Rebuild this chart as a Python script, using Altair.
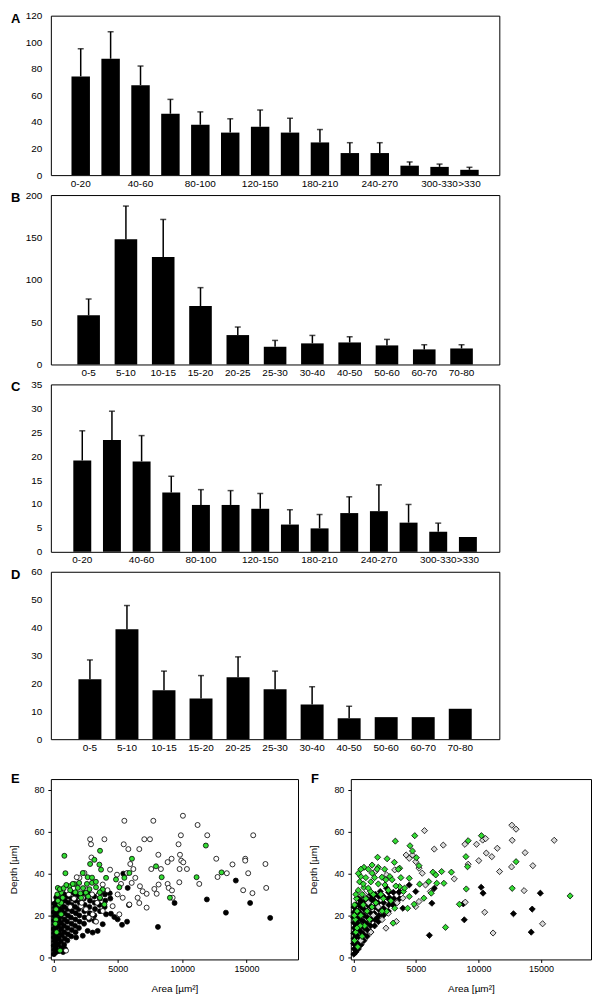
import altair as alt
import pandas as pd

FONT = "Liberation Sans, Arial"

# ---------------- bar panels data ----------------
A_cats = ["0-20", "20-40", "40-60", "60-80", "80-100", "100-120", "120-150", "150-180",
          "180-210", "210-240", "240-270", "270-300", "300-330", ">330"]
A_vals = [74.3, 87.6, 67.7, 46.2, 37.9, 32.0, 36.4, 32.0, 24.6, 16.6, 16.6, 7.1, 6.2, 4.0]
A_up = [95.1, 107.9, 82.1, 57.0, 47.6, 42.4, 49.0, 42.8, 34.3, 24.4, 24.4, 9.9, 8.3, 5.9]
A_labels = ["0-20", "40-60", "80-100", "120-150", "180-210", "240-270", "300-330", ">330"]
A_ticks = [0, 20, 40, 60, 80, 100, 120]

B_cats = ["0-5", "5-10", "10-15", "15-20", "20-25", "25-30", "30-40", "40-50", "50-60", "60-70", "70-80"]
B_vals = [58.0, 147.9, 127.0, 69.0, 34.7, 20.9, 24.9, 26.0, 22.5, 17.8, 18.9]
B_up = [77.3, 187.0, 171.2, 90.7, 44.2, 28.4, 34.3, 32.7, 29.6, 23.3, 23.3]
B_ticks = [0, 50, 100, 150, 200]

C_cats = A_cats
C_vals = [19.1, 23.4, 18.9, 12.4, 9.8, 9.8, 9.0, 5.7, 4.9, 8.1, 8.5, 6.1, 4.2, 3.1]
C_up = [25.3, 29.4, 24.3, 15.8, 13.0, 12.8, 12.2, 8.8, 7.8, 11.5, 14.0, 9.9, 6.0, None]
C_ticks = [0, 5, 10, 15, 20, 25, 30, 35]

D_cats = B_cats
D_vals = [21.5, 39.4, 17.5, 14.6, 22.2, 17.9, 12.4, 7.5, 7.9, 7.9, 10.9]
D_up = [28.4, 47.9, 24.4, 22.8, 29.5, 24.4, 18.8, 11.8, None, None, None]
D_ticks = [0, 10, 20, 30, 40, 50, 60]

# ---------------- scatter data (area um^2, depth um) ----------------
E_black = [
    (5430, 39.9), (5870, 24.9), (5720, 17.0), (5330, 15.5), (8120, 14.5), (9410, 25.9),
    (11920, 27.6), (13400, 21.3), (14170, 36.6), (15280, 25.9), (16840, 18.8),
    (4470, 20.8), (4730, 19.2), (4990, 18.1), (3830, 15.8), (3440, 12.6), (3050, 11.8),
    (3180, 17.4), (2660, 12.6), (2280, 10.3), (1760, 9.5), (5770, 33.1), (4090, 20.5),
    (40, 1.5), (60, 3.5), (30, 5.5), (70, 7.5), (40, 9.5), (60, 11.5), (30, 13.5), (80, 15.5),
    (50, 17.5), (70, 19.5), (40, 21.5), (90, 23.5), (60, 25.5),
    (210, 2.5), (180, 4.5), (230, 6.5), (190, 8.5), (220, 10.5), (170, 12.5), (240, 14.5),
    (200, 16.5), (180, 18.5), (230, 20.5), (210, 22.5), (190, 24.5), (250, 26.5), (220, 28.5),
    (420, 3), (380, 6), (410, 9), (430, 12), (390, 15), (420, 18), (370, 21), (440, 24),
    (400, 27), (420, 30),
    (620, 4.5), (580, 7.5), (640, 10.5), (600, 13.5), (610, 16.5), (570, 19.5), (630, 22.5),
    (590, 25.5), (650, 28.5), (750, 2.5), (900, 4),
    (830, 6), (880, 9), (850, 12), (820, 15), (870, 18), (860, 21), (840, 24), (890, 27), (850, 30),
    (1080, 8), (1130, 11), (1100, 14), (1070, 17), (1120, 20), (1090, 23), (1150, 26), (1110, 29),
    (1380, 10), (1420, 13), (1400, 16), (1360, 19), (1440, 22), (1410, 25), (1390, 28), (1430, 31),
    (1720, 12), (1680, 15), (1700, 18), (1740, 21), (1690, 24), (1710, 27), (1670, 30),
    (1980, 14), (2030, 17), (2010, 20), (1970, 23), (2040, 26), (2000, 29),
    (2380, 16), (2420, 19), (2400, 22), (2430, 25), (2370, 28), (2410, 30.5),
    (2780, 18), (2820, 21), (2800, 24), (2840, 27), (2790, 30),
    (3180, 20), (3230, 23), (3200, 26), (3170, 29),
    (3620, 22), (3580, 25), (3610, 28), (3590, 30.5),
    (3980, 24), (4030, 27), (4000, 30), (4420, 28), (4380, 30.5),
]
E_grey = [
    (5510, 65.1), (7760, 65.1), (10060, 67.5), (11200, 63.1), (9900, 58.2), (11950, 58.2),
    (15520, 58.2), (2850, 56.3), (2920, 53.9), (3960, 56.3), (7060, 56.3), (7500, 56.3),
    (5460, 53.9), (5820, 51.6), (6670, 51.6), (9720, 53.9), (9830, 48.9), (9930, 46.1),
    (8150, 48.9), (9180, 47.0), (8870, 45.4), (12650, 47.0), (13910, 44.3), (14900, 47.0),
    (14900, 46.1), (16470, 44.5), (2950, 47.6), (5970, 44.5), (6210, 42.1), (7600, 42.1),
    (8350, 42.1), (9800, 42.1), (10370, 42.1), (10090, 45.3), (13470, 40.1), (15130, 40.1),
    (12750, 38.3), (11330, 35.0), (9780, 35.8), (8870, 35.0), (8170, 34.7), (7840, 32.6),
    (8020, 30.3), (7240, 30.3), (7240, 23.7), (8950, 33.1), (9210, 31.9), (9260, 28.4),
    (14740, 32.0), (15460, 30.6), (16530, 33.1), (4400, 41.8), (4940, 39.4), (5250, 35.0),
    (5720, 40.2), (6080, 35.5), (6360, 37.9), (6720, 33.9), (6540, 28.4), (6930, 31.5),
    (6670, 25.9), (3830, 34.7), (3520, 30.0), (4990, 30.0), (5380, 28.4), (5900, 25.2),
    (4600, 24.4), (5120, 20.5), (3830, 22.1), (3050, 20.5), (2740, 18.9), (3310, 17.0),
    (2280, 28.4), (2150, 24.4), (2530, 22.9), (980, 3.2), (2020, 37.9), (2410, 40.2),
    (1810, 38.2), (1300, 24), (1600, 28), (2200, 26), (2600, 32),
    (3000, 30), (1200, 30), (700, 32), (400, 30), (3400, 26), (3800, 32), (4200, 32),
]
E_green = [
    (850, 48.4), (930, 40.1), (3620, 50.8), (6100, 47.0), (11840, 53.3), (7970, 43.4),
    (8410, 38.2), (11120, 38.2), (13060, 40.5), (9050, 28.4), (2850, 44.5), (3180, 46.5),
    (3570, 44.2), (3700, 41.8), (2280, 40.2), (2660, 38.2), (3000, 35.5), (1630, 35.0),
    (1240, 33.9), (340, 33.1), (600, 30.8), (720, 28.4), (470, 25.2), (210, 22.9), (600, 20.5),
    (1890, 33.1), (2150, 28.4), (2530, 30.8), (3310, 33.4), (3830, 32.3), (4090, 37.9),
    (4860, 37.1), (5120, 33.4), (5510, 37.9), (5900, 40.2), (3620, 28.4), (3960, 25.2),
    (520, 3.2), (300, 30), (500, 32.5), (800, 33), (1000, 34.5), (1300, 32), (1500, 35),
    (2000, 35.5), (2300, 33), (2600, 35), (2800, 32.5), (3000, 38), (3300, 36), (3600, 31),
    (200, 18), (250, 12), (600, 26), (1700, 31), (2100, 30.5), (2700, 29), (150, 16), (350, 27),
]

F_black = [
    (6080, 10.5), (6280, 25.8), (8790, 25.5), (8870, 17.9), (10220, 33.4), (10370, 30.6),
    (12800, 20.8), (14300, 23.0), (14950, 30.6), (14220, 12.0), (6470, 32.9),
    (2920, 28.2), (3700, 31.4), (4470, 34.5), (2410, 23.4), (3180, 25.0), (3960, 23.4),
    (1890, 18.7), (4990, 31.4), (2150, 31.4), (2660, 33.0), (1500, 28.2),
    (40, 1.5), (70, 4), (30, 6.5), (60, 9), (40, 11.5), (80, 14), (50, 16.5), (30, 19),
    (70, 21.5), (50, 24),
    (200, 2.5), (230, 5), (180, 7.5), (220, 10), (190, 12.5), (240, 15), (210, 17.5), (180, 20),
    (230, 22.5), (200, 25),
    (400, 4), (430, 7), (380, 10), (420, 13), (400, 16), (440, 19), (390, 22), (420, 25), (400, 28),
    (620, 6), (580, 9), (640, 12), (600, 15), (610, 18), (570, 21), (630, 24), (600, 27),
    (850, 8), (820, 11), (880, 14), (840, 17), (860, 20), (830, 23), (870, 26), (850, 29),
    (1100, 10), (1130, 13), (1080, 16), (1120, 19), (1090, 22), (1140, 25), (1100, 28),
    (1400, 12), (1380, 15), (1420, 18), (1400, 21), (1370, 24), (1430, 27), (1400, 30),
    (1700, 15), (1730, 18), (1680, 21), (1720, 24), (1700, 27), (1750, 30),
    (2000, 17), (2050, 20), (2010, 23), (1980, 26), (2040, 29),
    (2400, 20), (2380, 23), (2420, 26), (2400, 29),
    (2800, 22), (2830, 25), (2790, 28), (2820, 31),
    (3200, 25), (3250, 28), (3200, 31), (3700, 28), (3650, 31),
]
F_grey = [
    (5690, 60.4), (7190, 53.5), (6470, 51.6), (8920, 53.9), (9850, 53.9), (10340, 55.9),
    (10580, 56.6), (10630, 49.7), (11070, 48.0), (11510, 52.0), (12670, 63.0), (13010, 61.1),
    (12700, 55.8), (16060, 55.8), (10030, 46.1), (9180, 44.4), (11690, 40.9), (8070, 37.4),
    (12650, 43.1), (14350, 43.7), (13730, 49.9), (13650, 31.8), (8950, 26.3), (10500, 21.5),
    (11170, 11.6), (15130, 16.0), (4470, 47.2), (4730, 48.8), (4990, 45.6), (5250, 42.5),
    (5510, 40.1), (5770, 34.5), (4990, 24.2), (5250, 26.6), (3310, 41.7), (2610, 13.9),
    (3440, 17.1), (3960, 28.2), (1760, 40.9), (6160, 31.4), (4220, 48.8), (2660, 39.3),
    (1200, 26), (1600, 20), (2000, 24), (900, 30), (2300, 18), (2800, 21), (1400, 12),
    (3500, 26), (600, 8),
]
F_green = [
    (3360, 55.4), (4910, 58.0), (1940, 47.7), (850, 42.9), (1990, 42.9), (3280, 45.3),
    (4530, 53.2), (4730, 50.7), (5040, 47.5), (5250, 43.7), (3700, 42.5), (2920, 38.5),
    (2280, 38.2), (1500, 40.1), (600, 38.5), (850, 33.3), (1370, 31.4), (2530, 34.5),
    (3700, 33.7), (4470, 37.7), (5300, 34.9), (5640, 28.2), (6030, 36.1), (6360, 40.6),
    (6590, 39.3), (6670, 35.3), (7060, 40.9), (7240, 35.3), (6230, 30.6), (4010, 31.4),
    (4470, 29.0), (4860, 25.3), (4340, 23.4), (3310, 23.4), (3180, 16.3), (2660, 21.9),
    (7840, 40.6), (8480, 25.3), (7370, 14.3), (9030, 32.6), (9130, 43.2), (9000, 48.0),
    (9180, 55.6), (10240, 58.0), (13010, 45.6), (12700, 32.9), (17330, 29.3),
    (100, 8), (200, 12), (150, 18), (300, 22), (250, 28), (400, 32), (500, 36), (700, 30),
    (800, 25), (600, 20), (1000, 28), (1200, 33), (1400, 36), (1600, 30), (1800, 26),
    (2000, 35), (2200, 30), (900, 15), (700, 10), (1100, 22), (1300, 18), (1500, 24),
    (1700, 38), (1900, 42), (400, 40), (200, 30), (100, 25), (2400, 28), (2600, 37),
    (2800, 32), (3000, 27), (350, 5), (550, 15), (1000, 38), (1200, 42), (2500, 42),
    (3100, 37), (80, 20), (300, 14), (2300, 22), (3400, 34), (3800, 38), (4100, 33),
    (3600, 42), (2700, 47), (1500, 44), (800, 35), (600, 42),
]

GREEN = "#33dd33"


def letter_layer(letter, dy):
    return alt.Chart(pd.DataFrame({"t": [letter]})).mark_text(
        align="left", baseline="top", fontSize=13, fontWeight="bold",
        font=FONT, color="black"
    ).encode(x=alt.value(-40), y=alt.value(dy), text="t:N")


def bar_panel(letter, cats, vals, ups, yticks, ymax, label_values, pin, pout, h):
    df = pd.DataFrame({
        "cat": cats,
        "val": vals,
        "up": [u if u is not None else float("nan") for u in ups],
    })
    base = alt.Chart(df)
    x = alt.X(
        "cat:N", sort=cats, title=None,
        scale=alt.Scale(paddingInner=pin, paddingOuter=pout),
        axis=alt.Axis(values=label_values, labelAngle=0, ticks=False, domain=False,
                      labelPadding=3, labelFontSize=10, labelColor="black",
                      labelFont=FONT, labelOverlap=False),
    )
    ysc = alt.Scale(domain=[0, ymax], nice=False)
    yax = alt.Axis(values=yticks, ticks=False, domain=False, grid=False,
                   labelPadding=9, labelFontSize=10, labelFont=FONT, labelColor="black",
                   labelOverlap=False)
    bars = base.mark_bar(color="black").encode(
        x=x, y=alt.Y("val:Q", title=None, scale=ysc, axis=yax))
    eb = base.transform_filter("isValid(datum.up)")
    rule = eb.mark_rule(color="black", strokeWidth=1.5).encode(
        x=x, y=alt.Y("val:Q", title=None, scale=ysc, axis=yax), y2="up:Q")
    cap = eb.mark_tick(color="black", size=6, thickness=1.5).encode(
        x=x, y=alt.Y("up:Q", title=None, scale=ysc, axis=yax))
    return alt.layer(bars, rule, cap, letter_layer(letter, -3)).properties(width=450, height=h)


def scatter_panel(letter, shape, size, series, width):
    xs = alt.Scale(domain=[-200, 19000], nice=False, zero=False)
    ys = alt.Scale(domain=[-1, 85], nice=False, zero=False)
    xax = alt.Axis(values=[0, 5000, 10000, 15000], format="d", tickSize=3, tickColor="black",
                   labelFontSize=9, labelPadding=2, domain=False, grid=False, labelOverlap=False,
                   titleFontSize=10, titleFontWeight="normal", titlePadding=10,
                   labelFont=FONT, titleFont=FONT, labelColor="black", titleColor="black")
    yax = alt.Axis(values=[0, 20, 40, 60, 80], tickSize=3, tickColor="black",
                   labelFontSize=9, labelPadding=4, domain=False, grid=False, labelOverlap=False,
                   titleFontSize=10, titleFontWeight="normal", titlePadding=15,
                   labelFont=FONT, titleFont=FONT, labelColor="black", titleColor="black")
    layers = []
    for pairs, fill in series:
        df = pd.DataFrame(pairs, columns=["area", "depth"])
        layers.append(
            alt.Chart(df).mark_point(
                shape=shape, filled=True, fill=fill, stroke="black", strokeWidth=0.8,
                size=size, opacity=1
            ).encode(
                x=alt.X("area:Q", scale=xs, axis=xax, title="Area [µm²]"),
                y=alt.Y("depth:Q", scale=ys, axis=yax, title="Depth [µm]"),
            )
        )
    layers.append(letter_layer(letter, -6))
    return alt.layer(*layers).properties(width=width, height=181)


pA = bar_panel("A", A_cats, A_vals, A_up, A_ticks, 120, A_labels, 0.383, 0.69, 160)
pB = bar_panel("B", B_cats, B_vals, B_up, B_ticks, 200, B_cats, 0.394, 0.71, 170)
pC = bar_panel("C", C_cats, C_vals, C_up, C_ticks, 35, A_labels, 0.395, 0.757, 168)
pD = bar_panel("D", D_cats, D_vals, D_up, D_ticks, 60, D_cats, 0.38, 0.745, 168)

pE = scatter_panel("E", "circle", 25,
                   [(E_black, "black"), (E_grey, "white"), (E_green, GREEN)], 248)
pF = scatter_panel("F", "diamond", 38,
                   [(F_black, "black"), (F_grey, "#d9d9d9"), (F_green, GREEN)], 241)

bars_col = alt.vconcat(pA, pB, pC, pD, spacing=20, bounds="flush")
scat_row = alt.hconcat(pE, pF, spacing=53, bounds="flush")

chart = alt.vconcat(bars_col, scat_row, spacing=19, bounds="full").properties(
    padding=0
).configure_view(stroke="black", strokeWidth=1).configure_axis(grid=False)

chart.save("out.html", embed_options={"renderer": "svg", "actions": False})
